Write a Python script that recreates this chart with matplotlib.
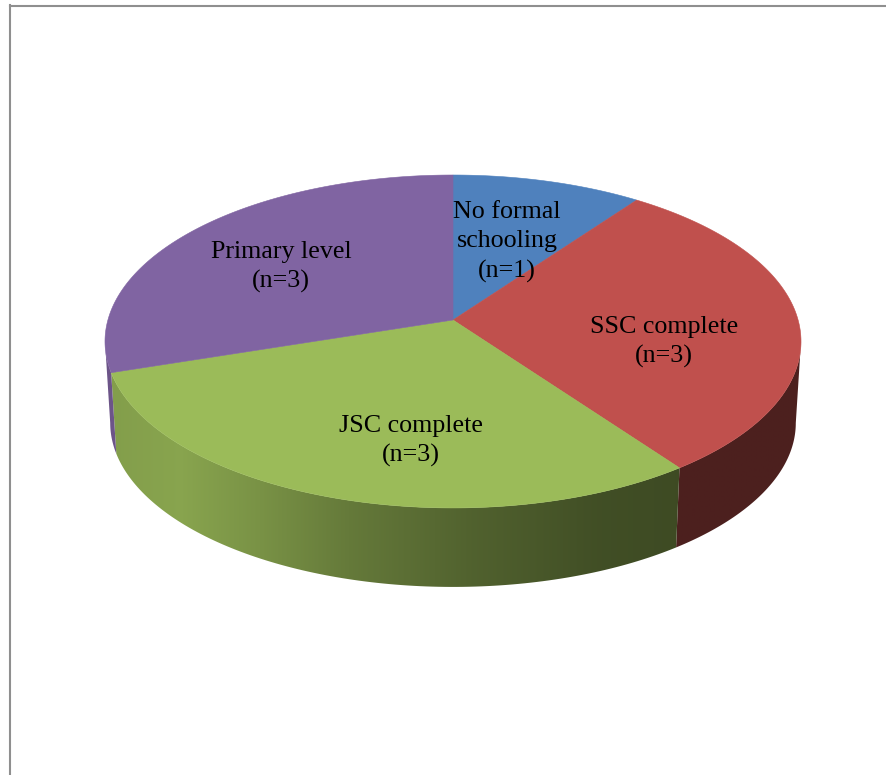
import numpy as np
import matplotlib.pyplot as plt
from matplotlib.patches import Polygon
from matplotlib.colors import to_rgb

# education level of respondents
categories = ["No formal\nschooling", "SSC complete", "JSC complete", "Primary level"]
counts = [1, 3, 3, 3]
colors = ["#4F81BD", "#C0504D", "#9BBB59", "#8064A2"]

# label anchors (pixel coords of the block centre)
label_pos = [(507, 242), (664, 342), (411, 441), (281, 267)]

W, H = 887, 775

# perspective pie geometry, in pixels
CX, CY = 453, 320
A, B = 345.1, 163.7
K = 0.129
DEPTH = 81.8
SHRINK = 0.985

# side shading vs x
shade_x = [100, 180, 260, 350, 475, 600, 680, 820]
shade_f = [0.84, 0.88, 0.78, 0.65, 0.52, 0.42, 0.40, 0.40]


def project(phi, drop=0.0, scale=1.0):
    # phi runs clockwise from the far edge of the disc
    w = 1 + K * np.cos(phi)
    x = CX + scale * A * np.sin(phi) / w
    y = CY + drop - scale * B * np.cos(phi) / w
    return x, y


def main():
    fig = plt.figure(figsize=(W / 100, H / 100), dpi=100)
    ax = fig.add_axes([0, 0, 1, 1])
    ax.set_xlim(0, W)
    ax.set_ylim(H, 0)
    ax.axis("off")

    total = sum(counts)
    bounds = np.concatenate([[0], np.cumsum(counts)]) / total * 2 * np.pi
    sil_r = np.arccos(-K)
    sil_l = 2 * np.pi - sil_r

    # side walls
    gx = np.linspace(90, 830, 400)
    fac = np.interp(gx, shade_x, shade_f)
    for i, col in enumerate(colors):
        lo = max(bounds[i], sil_r)
        hi = min(bounds[i + 1], sil_l)
        if lo >= hi:
            continue
        t = np.linspace(lo, hi, 120)
        tx, ty = project(t)
        bx, by = project(t[::-1], drop=DEPTH, scale=SHRINK)
        pts = np.column_stack([np.concatenate([tx, bx]), np.concatenate([ty, by])])
        clip = Polygon(pts, closed=True, transform=ax.transData)
        img = np.array(to_rgb(col))[None, None, :] * fac[None, :, None]
        im = ax.imshow(img, extent=(90, 830, 620, 300), aspect="auto",
                       interpolation="bilinear", zorder=1)
        im.set_clip_path(clip)

    # top face
    for i, col in enumerate(colors):
        t = np.linspace(bounds[i], bounds[i + 1], 150)
        x, y = project(t)
        pts = np.column_stack([np.concatenate([[CX], x]), np.concatenate([[CY], y])])
        ax.add_patch(Polygon(pts, closed=True, facecolor=col, edgecolor=col,
                             linewidth=0.4, zorder=2))

    for cat, n, (lx, ly) in zip(categories, counts, label_pos):
        ax.text(lx, ly, f"{cat}\n(n={n})", ha="center", va="center",
                family="Liberation Serif", fontsize=18.7, color="black",
                linespacing=1.41, zorder=3)

    # chart frame
    ax.plot([10.5, 10.5], [5, H], color="#8f8f8f", lw=1.5, zorder=4)
    ax.plot([10, W], [5.5, 5.5], color="#8f8f8f", lw=1.5, zorder=4)

    fig.savefig("out.png", dpi=100)


if __name__ == "__main__":
    main()
